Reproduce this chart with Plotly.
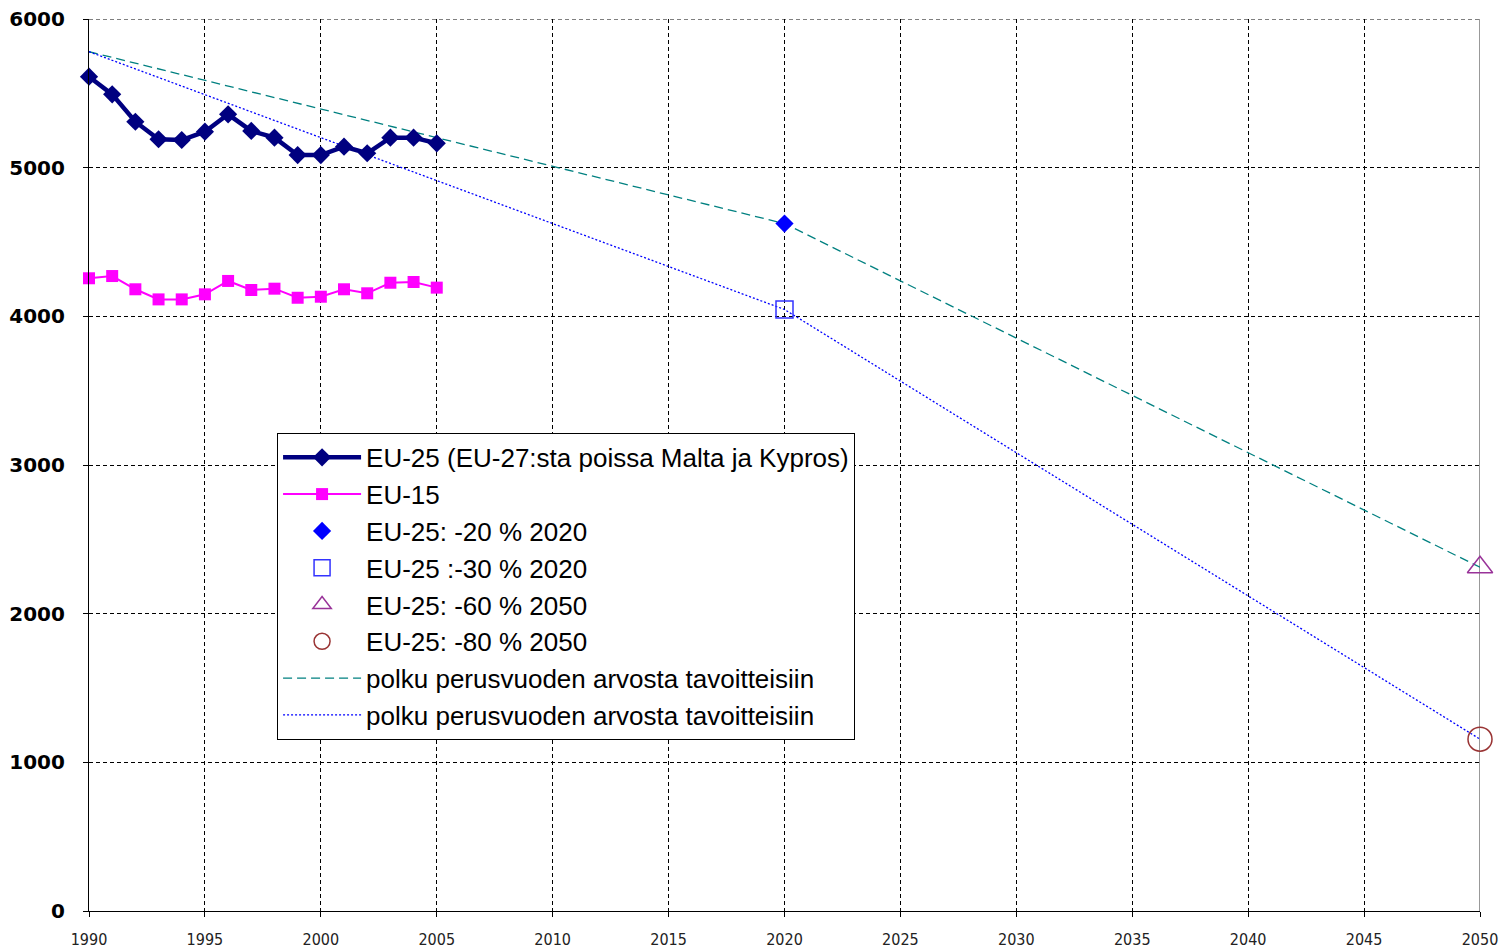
import plotly.graph_objects as go

years = list(range(1990, 2006))
eu25 = [5612, 5493, 5309, 5191, 5186, 5242, 5359, 5247, 5202, 5085, 5085, 5141, 5097, 5202, 5202, 5164]
eu15 = [4256, 4271, 4182, 4114, 4114, 4148, 4238, 4177, 4186, 4125, 4132, 4182, 4155, 4226, 4231, 4193]

base_value = 5780
target_2020_20 = 4624
target_2020_30 = 4046
target_2050_60 = 2312
target_2050_80 = 1156

path_years = [1990, 2020, 2050]
path_a = [base_value, target_2020_20, target_2050_60]
path_b = [base_value, target_2020_30, target_2050_80]

x_ticks = list(range(1990, 2051, 5))
y_ticks = list(range(0, 6001, 1000))

fig = go.Figure()

fig.add_trace(go.Scatter(x=path_years, y=path_a, mode="lines", name="polku perusvuoden arvosta tavoitteisiin",
                         line=dict(color="#008080", width=1.3, dash="9px,5px"), legendrank=7, cliponaxis=False))
fig.add_trace(go.Scatter(x=path_years, y=path_b, mode="lines", name="polku perusvuoden arvosta tavoitteisiin",
                         line=dict(color="#0000FF", width=1.3, dash="2px,2px"), legendrank=8, cliponaxis=False))
fig.add_trace(go.Scatter(x=years, y=eu25, mode="lines+markers", name="EU-25 (EU-27:sta poissa Malta ja Kypros)",
                         line=dict(color="#000080", width=4.5), marker=dict(symbol="diamond", size=14, color="#000080"),
                         legendrank=1, cliponaxis=False))
fig.add_trace(go.Scatter(x=years, y=eu15, mode="lines+markers", name="EU-15",
                         line=dict(color="#FF00FF", width=2), marker=dict(symbol="square", size=12, color="#FF00FF"),
                         legendrank=2, cliponaxis=False))
fig.add_trace(go.Scatter(x=[2020], y=[target_2020_20], mode="markers", name="EU-25: -20 % 2020",
                         marker=dict(symbol="diamond", size=14, color="#0000FF"), legendrank=3, cliponaxis=False))
fig.add_trace(go.Scatter(x=[2020], y=[target_2020_30], mode="markers", name="EU-25 :-30 % 2020",
                         marker=dict(symbol="square-open", size=17, color="#3333FF", line=dict(width=1.5)),
                         legendrank=4, cliponaxis=False))
fig.add_trace(go.Scatter(x=[2050], y=[target_2050_60], mode="markers", name="EU-25: -60 % 2050",
                         marker=dict(symbol="triangle-up-open", size=22, color="#993399", line=dict(width=1.5)),
                         legendrank=5, cliponaxis=False))
fig.add_trace(go.Scatter(x=[2050], y=[target_2050_80], mode="markers", name="EU-25: -80 % 2050",
                         marker=dict(symbol="circle-open", size=24, color="#993333", line=dict(width=1.5)),
                         legendrank=6, cliponaxis=False))

fig.update_layout(
    width=1503, height=949,
    margin=dict(l=89, r=23, t=19, b=38, autoexpand=False),
    paper_bgcolor="white", plot_bgcolor="white",
    font=dict(family="Liberation Sans, Arial, sans-serif", color="black"),
    legend=dict(x=0.1352, y=0.536, xanchor="left", yanchor="top",
                bgcolor="white", bordercolor="black", borderwidth=1,
                font=dict(size=26, family="Liberation Sans, Arial, sans-serif", color="black"),
                tracegroupgap=0, itemwidth=78),
    showlegend=True,
)
fig.update_xaxes(range=[1990, 2050], tickvals=x_ticks, ticktext=[str(v) for v in x_ticks],
                 showgrid=True, gridcolor="black", griddash="4px,3px", gridwidth=1,
                 showline=True, linecolor="black", linewidth=1.2, mirror=False,
                 ticks="outside", ticklen=5, tickcolor="black", ticklabelstandoff=9,
                 ticklabeloverflow="allow",
                 tickfont=dict(family="Liberation Sans Narrow, DejaVu Sans Condensed, sans-serif", size=16, color="#222"),
                 zeroline=False, automargin=False)
fig.update_yaxes(range=[0, 6000], tickvals=y_ticks,
                 showgrid=True, gridcolor="black", griddash="4px,3px", gridwidth=1,
                 showline=True, linecolor="black", linewidth=1.2,
                 ticks="outside", ticklen=5, tickcolor="black", ticklabelstandoff=14,
                 ticklabeloverflow="allow",
                 tickfont=dict(family="DejaVu Sans, Verdana", size=20, color="black", weight="bold"),
                 zeroline=False, automargin=False)
fig.add_shape(type="line", xref="x", yref="paper", x0=2050, x1=2050, y0=0, y1=1,
              line=dict(color="#999999", width=2), layer="below")
fig.add_shape(type="line", xref="paper", yref="y", x0=0, x1=1, y0=y_ticks[-1], y1=y_ticks[-1],
              line=dict(color="black", width=1, dash="4px,3px"), layer="below")

fig.write_html("out.html", config={"displayModeBar": False},
               post_script="document.body.style.margin='0';document.body.style.overflow='hidden';")
